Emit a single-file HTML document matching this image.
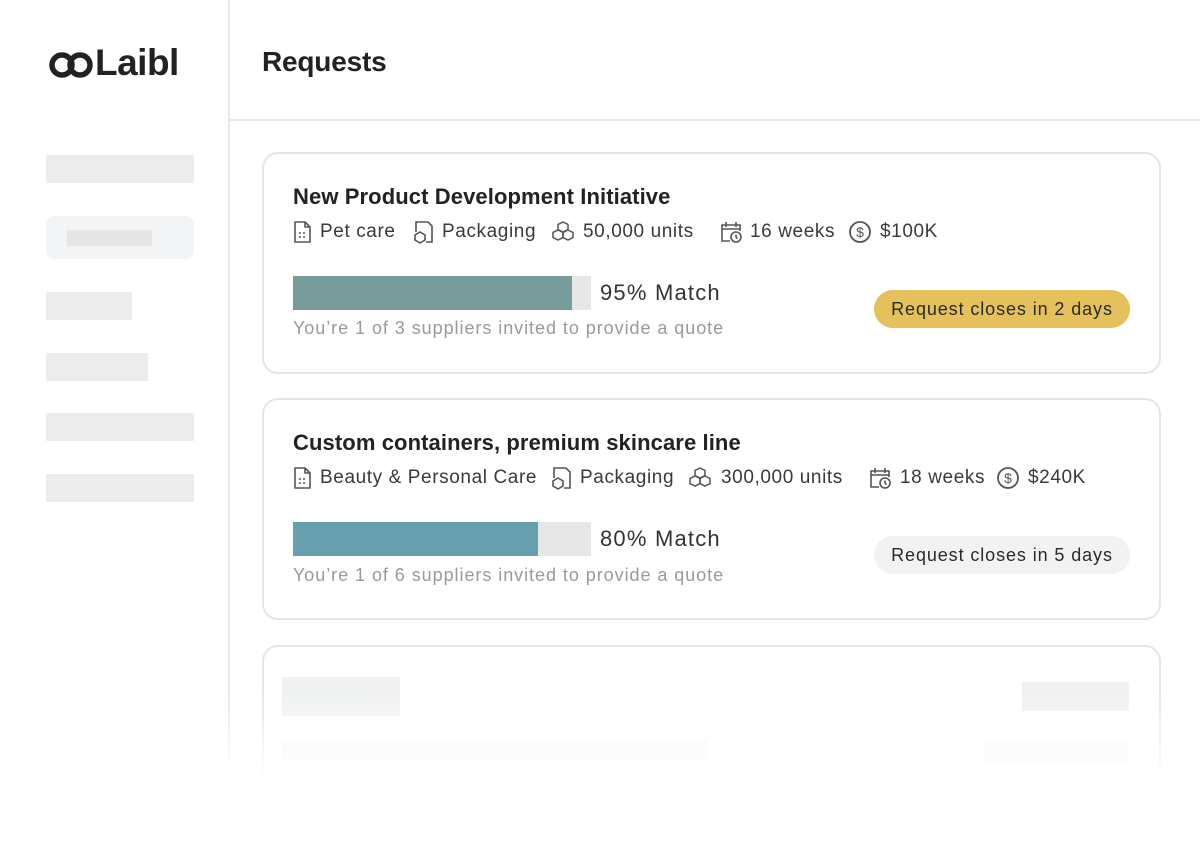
<!DOCTYPE html>
<html><head><meta charset="utf-8"><style>
*{margin:0;padding:0;box-sizing:border-box}
body{width:1200px;height:864px;background:#fff;position:relative;overflow:hidden;font-family:"Liberation Sans",sans-serif;color:#2a2a2a}
.a{position:absolute}
.sk{position:absolute;background:#ececec}
.card{position:absolute;left:262px;width:899px;border:2px solid #e6e6e6;border-radius:16px;background:#fff}
.t{position:absolute;font-weight:bold;font-size:22px;letter-spacing:0.1px;color:#222;white-space:nowrap}
.m{position:absolute;font-size:19px;letter-spacing:0.6px;color:#3a3a3a;white-space:nowrap}
.ic{position:absolute;width:24px;height:24px}
.track{position:absolute;height:34px;width:298px;background:#e6e7e6}
.mt{position:absolute;font-size:22px;letter-spacing:1.2px;color:#333;white-space:nowrap}
.sub{position:absolute;font-size:18px;letter-spacing:0.95px;color:#9a9a9a;white-space:nowrap}
.pill{position:absolute;height:38px;border-radius:19px;font-size:18px;letter-spacing:0.9px;line-height:38px;text-align:center;color:#2a2a2a}
</style></head><body>
<div class="a" style="left:228px;top:0;width:2px;height:760px;background:#e8e8e8"></div>
<div class="a" style="left:229px;top:119px;width:971px;height:2px;background:#e8e8e8"></div>
<svg class="a" style="left:48px;top:50px" width="46" height="30"><g fill="none" stroke="#222" stroke-width="5.5"><circle cx="14" cy="15" r="10"/><circle cx="32" cy="15" r="10"/></g></svg>
<div class="a" style="left:95px;top:42px;font-size:37px;font-weight:bold;letter-spacing:-0.5px;color:#222;white-space:nowrap">Laibl</div>
<div class="a" style="left:262px;top:46px;font-size:28px;font-weight:bold;letter-spacing:-0.2px;color:#222">Requests</div>
<div class="sk" style="left:46px;top:155px;width:148px;height:28px"></div>
<div class="sk" style="left:46px;top:216px;width:148px;height:43px;background:#f3f4f5;border-radius:8px"></div>
<div class="sk" style="left:67px;top:230px;width:85px;height:16px;background:#e6e6e6"></div>
<div class="sk" style="left:46px;top:292px;width:86px;height:28px"></div>
<div class="sk" style="left:46px;top:353px;width:102px;height:28px"></div>
<div class="sk" style="left:46px;top:413px;width:148px;height:28px"></div>
<div class="sk" style="left:46px;top:474px;width:148px;height:28px"></div>

<svg width="0" height="0" style="position:absolute"><defs>
<symbol id="doc" viewBox="0 0 24 24"><path d="M5 2h10l5 5v15H5z M15 2v5h5" fill="none" stroke="#555" stroke-width="1.6" stroke-linejoin="round"/><path d="M9 13h2M13 13h2M9 17h2M13 17h2" stroke="#555" stroke-width="1.6"/></symbol>
<symbol id="pkg" viewBox="0 0 24 24"><path d="M8 2h8l4 4v16h-6 M4 12V2h4" fill="none" stroke="#555" stroke-width="1.6"/><path d="M8 12l5 3v5l-5 3-5-3v-5z" fill="none" stroke="#555" stroke-width="1.6"/></symbol>
<symbol id="box" viewBox="0 0 24 24"><g fill="none" stroke="#555" stroke-width="1.5"><path d="M12 2l5 2.5v5L12 12 7 9.5v-5z"/><path d="M7 10l5 2.5v5L7 20 2 17.5v-5z"/><path d="M17 10l5 2.5v5L17 20l-5-2.5v-5z"/></g></symbol>
<symbol id="cal" viewBox="0 0 24 24"><g fill="none" stroke="#555" stroke-width="1.6"><path d="M11 21H3V5h18v6 M3 9h18 M7 2v5 M17 2v5"/><circle cx="17" cy="17" r="5"/><path d="M17 14.5V17l1.5 1.5"/></g></symbol>
<symbol id="usd" viewBox="0 0 24 24"><circle cx="12" cy="12" r="10" fill="none" stroke="#555" stroke-width="1.8"/><text x="12" y="17" font-size="14" text-anchor="middle" fill="#555" font-family="Liberation Sans">$</text></symbol>
</defs></svg>

<div class="card" style="top:152px;height:222px"></div>
<div class="t" style="left:293px;top:184px">New Product Development Initiative</div>
<svg class="ic" style="left:290px;top:220px"><use href="#doc"/></svg><div class="m" style="left:320px;top:221px">Pet care</div>
<svg class="ic" style="left:412px;top:220px"><use href="#pkg"/></svg><div class="m" style="left:442px;top:221px">Packaging</div>
<svg class="ic" style="left:551px;top:220px"><use href="#box"/></svg><div class="m" style="left:583px;top:221px">50,000 units</div>
<svg class="ic" style="left:719px;top:220px"><use href="#cal"/></svg><div class="m" style="left:750px;top:221px">16 weeks</div>
<svg class="ic" style="left:848px;top:220px"><use href="#usd"/></svg><div class="m" style="left:880px;top:221px">$100K</div>
<div class="track" style="left:293px;top:276px"><div style="width:279px;height:34px;background:#789c9c"></div></div>
<div class="mt" style="left:600px;top:280px">95% Match</div>
<div class="sub" style="left:293px;top:318px">You’re 1 of 3 suppliers invited to provide a quote</div>
<div class="pill" style="left:874px;top:290px;width:256px;background:#e4c15b">Request closes in 2 days</div>

<div class="card" style="top:398px;height:222px"></div>
<div class="t" style="left:293px;top:430px">Custom containers, premium skincare line</div>
<svg class="ic" style="left:290px;top:466px"><use href="#doc"/></svg><div class="m" style="left:320px;top:467px">Beauty &amp; Personal Care</div>
<svg class="ic" style="left:550px;top:466px"><use href="#pkg"/></svg><div class="m" style="left:580px;top:467px">Packaging</div>
<svg class="ic" style="left:688px;top:466px"><use href="#box"/></svg><div class="m" style="left:721px;top:467px">300,000 units</div>
<svg class="ic" style="left:868px;top:466px"><use href="#cal"/></svg><div class="m" style="left:900px;top:467px">18 weeks</div>
<svg class="ic" style="left:996px;top:466px"><use href="#usd"/></svg><div class="m" style="left:1028px;top:467px">$240K</div>
<div class="track" style="left:293px;top:522px"><div style="width:245px;height:34px;background:#66a0ae"></div></div>
<div class="mt" style="left:600px;top:526px">80% Match</div>
<div class="sub" style="left:293px;top:565px">You’re 1 of 6 suppliers invited to provide a quote</div>
<div class="pill" style="left:874px;top:536px;width:256px;background:#f1f2f3">Request closes in 5 days</div>

<div class="card" style="top:645px;height:200px"></div>
<div class="sk" style="left:282px;top:677px;width:118px;height:39px;background:#f0f1f2"></div>
<div class="sk" style="left:1022px;top:682px;width:107px;height:29px;background:#f1f1f1"></div>
<div class="sk" style="left:282px;top:741px;width:425px;height:20px;background:#f6f6f6"></div>
<div class="sk" style="left:983px;top:743px;width:146px;height:20px;background:#f6f6f6"></div>
<div class="a" style="left:0;top:690px;width:1200px;height:90px;background:linear-gradient(rgba(255,255,255,0),#fff)"></div>
<div class="a" style="left:0;top:778px;width:1200px;height:90px;background:#fff"></div>
</body></html>
